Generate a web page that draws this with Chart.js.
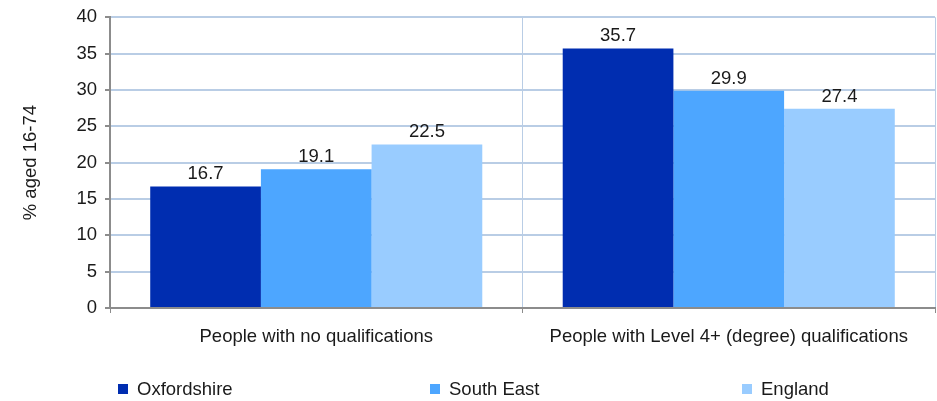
<!DOCTYPE html>
<html>
<head>
<meta charset="utf-8">
<script src="https://cdn.jsdelivr.net/npm/chart.js@4"></script>
<style>
  html, body { margin: 0; padding: 0; background: #fff; }
  #wrap { width: 937px; height: 401px; position: relative; }
</style>
</head>
<body>
<div id="wrap"><canvas id="chart"></canvas></div>
<script>
// ── Data ──
const categories  = ['People with no qualifications', 'People with Level 4+ (degree) qualifications'];
const oxfordshire = [16.7, 35.7];
const southEast   = [19.1, 29.9];
const england     = [22.5, 27.4];
const seriesNames = ['Oxfordshire', 'South East', 'England'];
const colours     = ['#002DB0', '#4DA6FF', '#99CCFF'];

const FONT = '"Liberation Sans", Arial, sans-serif';
const GRID = '#B9CDE5';
const AXIS = '#8C8C8C';
const SIZE = 18.5;

// ── Value labels above each bar ──
const valueLabels = {
  id: 'valueLabels',
  afterDatasetsDraw(chart) {
    const ctx = chart.ctx;
    ctx.save();
    ctx.font = SIZE + 'px ' + FONT;
    ctx.fillStyle = '#1a1a1a';
    ctx.textAlign = 'center';
    ctx.textBaseline = 'bottom';
    chart.data.datasets.forEach((ds, i) => {
      chart.getDatasetMeta(i).data.forEach((bar, j) => {
        ctx.fillText(ds.data[j].toFixed(1), bar.x, bar.y - 3);
      });
    });
    ctx.restore();
  }
};

// ── Bottom legend spread across the width ──
const spreadLegend = {
  id: 'spreadLegend',
  afterDraw(chart) {
    const ctx = chart.ctx;
    ctx.save();
    ctx.font = SIZE + 'px ' + FONT;
    ctx.textBaseline = 'middle';
    seriesNames.forEach((name, i) => {
      const x = 118 + i * 312;
      const y = 389;
      ctx.fillStyle = colours[i];
      ctx.fillRect(x, y - 5, 10, 10);
      ctx.fillStyle = '#1a1a1a';
      ctx.fillText(name, x + 19, y + 1);
    });
    ctx.restore();
  }
};

const series = [oxfordshire, southEast, england];

new Chart(document.getElementById('chart'), {
  type: 'bar',
  data: {
    labels: categories,
    datasets: series.map((vals, i) => ({
      label: seriesNames[i],
      data: vals,
      backgroundColor: colours[i],
      borderWidth: 0,
      categoryPercentage: 0.805,
      barPercentage: 1.0
    }))
  },
  options: {
    responsive: true,
    maintainAspectRatio: false,
    animation: false,
    layout: { padding: { top: 10, right: 2, left: 0, bottom: 0 } },
    plugins: {
      legend: { display: false },
      tooltip: { enabled: false }
    },
    scales: {
      x: {
        grid: { color: GRID, tickColor: AXIS, tickLength: 5, lineWidth: 1, offset: true },
        border: { color: AXIS, width: 2 },
        ticks: { color: '#1a1a1a', font: { family: FONT, size: SIZE }, padding: 13, maxRotation: 0 },
        afterFit(scale) { scale.height = 93; }
      },
      y: {
        min: 0,
        max: 40,
        ticks: { stepSize: 5, color: '#1a1a1a', font: { family: FONT, size: SIZE, lineHeight: 1 }, padding: 8 },
        grid: { color: GRID, tickColor: AXIS, tickLength: 5, lineWidth: 2 },
        border: { color: AXIS, width: 2 },
        title: {
          display: true,
          text: '% aged 16-74',
          color: '#1a1a1a',
          font: { family: FONT, size: SIZE },
          padding: { top: 20, bottom: 0 }
        },
        afterFit(scale) { scale.width = 110; }
      }
    }
  },
  plugins: [valueLabels, spreadLegend]
});
</script>
</body>
</html>
